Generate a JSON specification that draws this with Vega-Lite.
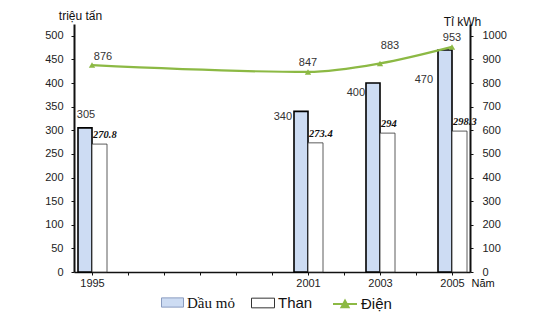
{
  "$schema": "https://vega.github.io/schema/vega-lite/v6.json",
  "width": 396,
  "height": 248,
  "autosize": {"type": "none"},
  "padding": {"left": 74, "top": 24, "right": 84, "bottom": 52},
  "background": "white",
  "config": {
    "view": {"stroke": null},
    "font": "Liberation Sans",
    "scale": {"continuousPadding": 0},
    "axis": {"labelFont": "Liberation Sans", "titleFont": "Liberation Sans", "labelColor": "#222", "titleColor": "#111", "titleFontWeight": "normal", "domainColor": "#111", "tickColor": "#111", "grid": false},
    "legend": {"padding": 0, "labelColor": "#111", "labelOffset": 3}
  },
  "datasets": {
    "d": [
      {"year": 1995, "series": "Dầu mỏ", "value": 305},
      {"year": 2001, "series": "Dầu mỏ", "value": 340},
      {"year": 2003, "series": "Dầu mỏ", "value": 400},
      {"year": 2005, "series": "Dầu mỏ", "value": 470},
      {"year": 1995, "series": "Than", "value": 270.8},
      {"year": 2001, "series": "Than", "value": 273.4},
      {"year": 2003, "series": "Than", "value": 294},
      {"year": 2005, "series": "Than", "value": 298.3},
      {"year": 1995, "series": "Điện", "value": 876},
      {"year": 2001, "series": "Điện", "value": 847},
      {"year": 2003, "series": "Điện", "value": 883},
      {"year": 2005, "series": "Điện", "value": 953}
    ]
  },
  "data": {"name": "d"},
  "encoding": {
    "x": {
      "field": "year", "type": "quantitative",
      "scale": {"domain": [1994.5, 2005.5], "nice": false, "zero": false, "padding": 0},
      "axis": {
        "orient": "bottom", "values": [1995, 1996, 1997, 1998, 1999, 2000, 2001, 2002, 2003, 2004, 2005],
        "labelExpr": "(datum.value == 1995 || datum.value == 2001 || datum.value == 2003 || datum.value == 2005) ? toString(datum.value) : ''",
        "title": "Năm", "titleX": 397, "titleY": 11, "titleAlign": "left", "titleBaseline": "middle", "titleFontSize": 11,
        "tickSize": 3, "labelPadding": 2, "labelFontSize": 11, "labelOverlap": false, "labelFlush": false,
        "domainWidth": 1.5,
        "encode": {"ticks": {"y": {"value": -2}}}
      }
    }
  },
  "layer": [
    {
      "encoding": {
        "y": {
          "field": "value", "type": "quantitative",
          "scale": {"domain": [0, 525], "nice": false, "zero": true},
          "axis": {
            "orient": "left", "values": [0, 50, 100, 150, 200, 250, 300, 350, 400, 450, 500],
            "title": "triệu tấn", "titleAngle": 0, "titleX": 6, "titleY": -9, "titleAlign": "center", "titleBaseline": "middle", "titleFontSize": 12,
            "labelFontSize": 11, "labelPadding": 8, "tickSize": 3, "domainWidth": 2,
            "encode": {"ticks": {"x": {"value": 3}}}
          }
        }
      },
      "layer": [
        {
          "transform": [{"filter": "datum.series === 'Dầu mỏ'"}],
          "mark": {"type": "bar", "width": 14, "xOffset": -7, "stroke": "#000", "strokeWidth": 1.6},
          "encoding": {
            "fill": {
              "field": "series", "type": "nominal",
              "scale": {"domain": ["Dầu mỏ"], "range": ["#cddcf3"]},
              "legend": {
                "orient": "none", "legendX": 87, "legendY": 267, "title": null,
                "symbolType": "M-1,-0.42H1V0.42H-1Z", "symbolSize": 484, "symbolStrokeColor": "#8a9cc0", "symbolStrokeWidth": 1,
                "labelFont": "Liberation Serif", "labelFontSize": 15
              }
            }
          }
        },
        {
          "transform": [{"filter": "datum.series === 'Than'"}],
          "mark": {"type": "bar", "width": 15, "xOffset": 7.5, "fill": "#ffffff", "strokeWidth": 0.8},
          "encoding": {
            "stroke": {
              "field": "series", "type": "nominal",
              "scale": {"domain": ["Than"], "range": ["#333333"]},
              "legend": {
                "orient": "none", "legendX": 177, "legendY": 267, "title": null,
                "symbolType": "M-1,-0.42H1V0.42H-1Z", "symbolSize": 529, "symbolFillColor": "#ffffff", "symbolStrokeWidth": 1,
                "labelFont": "Liberation Sans", "labelFontSize": 15
              }
            }
          }
        },
        {
          "transform": [{"filter": "datum.series === 'Dầu mỏ' && datum.year == 1995"}],
          "mark": {"type": "text", "align": "center", "baseline": "middle", "dx": -6, "dy": -13, "fontSize": 11, "color": "#333"},
          "encoding": {"text": {"field": "value", "type": "quantitative"}}
        },
        {
          "transform": [{"filter": "datum.series === 'Dầu mỏ' && datum.year == 2001"}],
          "mark": {"type": "text", "align": "right", "baseline": "middle", "dx": -16, "dy": 6, "fontSize": 11, "color": "#333"},
          "encoding": {"text": {"field": "value", "type": "quantitative"}}
        },
        {
          "transform": [{"filter": "datum.series === 'Dầu mỏ' && datum.year == 2003"}],
          "mark": {"type": "text", "align": "right", "baseline": "middle", "dx": -15, "dy": 10, "fontSize": 11, "color": "#333"},
          "encoding": {"text": {"field": "value", "type": "quantitative"}}
        },
        {
          "transform": [{"filter": "datum.series === 'Dầu mỏ' && datum.year == 2005"}],
          "mark": {"type": "text", "align": "right", "baseline": "middle", "dx": -19, "dy": 30, "fontSize": 11, "color": "#333"},
          "encoding": {"text": {"field": "value", "type": "quantitative"}}
        },
        {
          "transform": [{"filter": "datum.series === 'Than'"}],
          "mark": {"type": "text", "align": "left", "baseline": "middle", "dx": 1, "dy": -9, "font": "Liberation Serif", "fontStyle": "italic", "fontWeight": "bold", "fontSize": 10.5, "color": "#111"},
          "encoding": {"text": {"field": "value", "type": "quantitative"}}
        },
        {
          "data": {"values": [{}]},
          "mark": {"type": "point", "shape": "M-1,1.2L0,0L1,1.2", "filled": false, "stroke": "#111", "strokeWidth": 1.5, "size": 100, "opacity": 1},
          "encoding": {"x": {"datum": 1994.5}, "y": {"datum": 525}}
        },
        {
          "data": {"values": [{}]},
          "mark": {"type": "point", "shape": "M-1,1.2L0,0L1,1.2", "filled": false, "stroke": "#111", "strokeWidth": 1.5, "size": 100, "opacity": 1},
          "encoding": {"x": {"datum": 2005.5}, "y": {"datum": 525}}
        },
        {
          "data": {"values": [{}]},
          "mark": {"type": "point", "shape": "M-1.2,-1L0,0L-1.2,1", "filled": false, "stroke": "#111", "strokeWidth": 1.5, "size": 100, "opacity": 1},
          "encoding": {"x": {"datum": 2005.65}, "y": {"datum": 0}}
        }
      ]
    },
    {
      "transform": [{"filter": "datum.series === 'Điện'"}],
      "encoding": {
        "y": {
          "field": "value", "type": "quantitative",
          "scale": {"domain": [0, 1050], "nice": false, "zero": true},
          "axis": {
            "orient": "right", "values": [0, 100, 200, 300, 400, 500, 600, 700, 800, 900, 1000], "format": "d",
            "title": "Tỉ kWh", "titleAngle": 0, "titleX": -8, "titleY": -3, "titleAlign": "center", "titleBaseline": "middle", "titleFontSize": 12,
            "labelFontSize": 11, "labelPadding": 9, "tickSize": 3, "domainWidth": 2,
            "encode": {"ticks": {"x": {"value": -3}}}
          }
        }
      },
      "layer": [
        {
          "mark": {"type": "line", "interpolate": "monotone", "strokeWidth": 2.2},
          "encoding": {
            "stroke": {
              "field": "series", "type": "nominal",
              "scale": {"domain": ["Điện"], "range": ["#8cb944"]},
              "legend": {
                "orient": "none", "legendX": 258, "legendY": 267, "title": null,
                "symbolType": "M-1,0H1M-0.3,0.28L0,-0.28L0.3,0.28Z", "symbolSize": 576, "symbolFillColor": "#8cb944", "symbolStrokeWidth": 2,
                "labelFont": "Liberation Sans", "labelFontSize": 15
              }
            }
          }
        },
        {
          "mark": {"type": "point", "shape": "triangle-up", "filled": true, "size": 40, "opacity": 1, "color": "#8cb944"}
        },
        {
          "transform": [{"filter": "datum.year == 1995"}],
          "mark": {"type": "text", "align": "center", "baseline": "middle", "dx": 11, "dy": -8, "fontSize": 11, "color": "#333"},
          "encoding": {"text": {"field": "value", "type": "quantitative"}}
        },
        {
          "transform": [{"filter": "datum.year == 2001 || datum.year == 2005"}],
          "mark": {"type": "text", "align": "center", "baseline": "middle", "dx": 0, "dy": -9, "fontSize": 11, "color": "#333"},
          "encoding": {"text": {"field": "value", "type": "quantitative"}}
        },
        {
          "transform": [{"filter": "datum.year == 2003"}],
          "mark": {"type": "text", "align": "center", "baseline": "middle", "dx": 10, "dy": -17, "fontSize": 11, "color": "#333"},
          "encoding": {"text": {"field": "value", "type": "quantitative"}}
        }
      ]
    }
  ],
  "resolve": {"scale": {"y": "independent", "stroke": "independent"}, "legend": {"stroke": "independent"}}
}
